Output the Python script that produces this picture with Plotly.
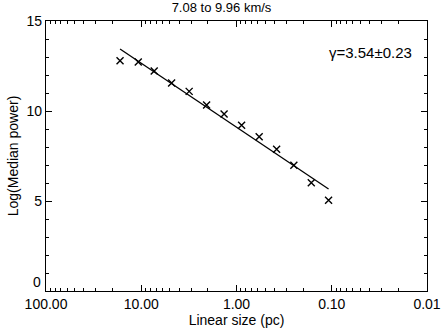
import plotly.graph_objects as go

# spatial scale (pc) and log of median power
size_pc = [16.7, 10.75, 7.31, 4.80, 3.14, 2.06, 1.35, 0.884, 0.578, 0.379, 0.250, 0.164, 0.108]
log_power = [12.79, 12.72, 12.22, 11.56, 11.09, 10.33, 9.83, 9.21, 8.57, 7.87, 6.98, 6.02, 5.04]

# fitted power law end points
fit_x = [16.7, 0.108]
fit_y = [13.44, 5.67]

y_ticks = [0, 5, 10, 15]
x_ticks = [100, 10, 1, 0.1, 0.01]
x_ticktext = ['100.00', '10.00', '1.00', '0.10', '0.01']

title_text = '7.08 to 9.96 km/s'
gamma_text = 'γ=3.54±0.23'

FONT = 'Liberation Sans, Arial, sans-serif'

fig = go.Figure()
fig.add_trace(go.Scatter(x=fit_x, y=fit_y, mode='lines',
                         line=dict(color='black', width=1.3),
                         showlegend=False))
fig.add_trace(go.Scatter(x=size_pc, y=log_power, mode='markers',
                         marker=dict(symbol='x-thin-open', size=7, color='black',
                                     line=dict(color='black', width=1.4)),
                         showlegend=False))

axis_common = dict(showgrid=False, zeroline=False, showline=True,
                   linecolor='black', linewidth=1.3, mirror='ticks',
                   ticks='inside', ticklen=6, tickcolor='black',
                   automargin=False,
                   tickfont=dict(size=14, color='black', family=FONT))

# the lowest y label sits a little above the corner, as in the original
y_ticktext = [''] + [str(v) for v in y_ticks[1:]]

fig.update_layout(
    width=443, height=332,
    margin=dict(l=46, r=16, t=21, b=41),
    paper_bgcolor='white', plot_bgcolor='white',
    font=dict(family=FONT, color='black'),
    title=dict(text=title_text, x=0.5, xanchor='center', y=0.99,
               yanchor='top', font=dict(size=13)),
    xaxis=dict(type='log', range=[2, -2], tickvals=x_ticks,
               ticktext=x_ticktext, ticklabelstandoff=0,
               minor=dict(ticks='inside', ticklen=3, tickcolor='black',
                          tickvals=[m * 10 ** e for e in (-2, -1, 0, 1)
                                    for m in range(2, 10)]),
               title=dict(text='Linear size (pc)', font=dict(size=14),
                          standoff=2),
               **axis_common),
    yaxis=dict(range=[0, 15], tickvals=y_ticks, ticktext=y_ticktext,
               ticklabelstandoff=0,
               minor=dict(ticks='inside', ticklen=3, tickcolor='black',
                          dtick=1),
               title=dict(text='Log(Median power)', font=dict(size=14),
                          standoff=4),
               **axis_common),
    annotations=[
        dict(text=gamma_text, xref='paper', yref='paper',
             x=0.965, y=0.885, xanchor='right', yanchor='middle',
             showarrow=False, font=dict(size=15, color='black')),
        dict(text=str(y_ticks[0]), xref='paper', yref='y', x=0, y=y_ticks[0],
             xanchor='right', yanchor='bottom', xshift=-3, yshift=-1,
             showarrow=False, font=dict(size=14, color='black')),
    ],
)

# drop the default page margin so the figure sits at the window corner
fig.write_html('out.html', config={'displayModeBar': False},
               post_script="document.body.style.margin='0';")
